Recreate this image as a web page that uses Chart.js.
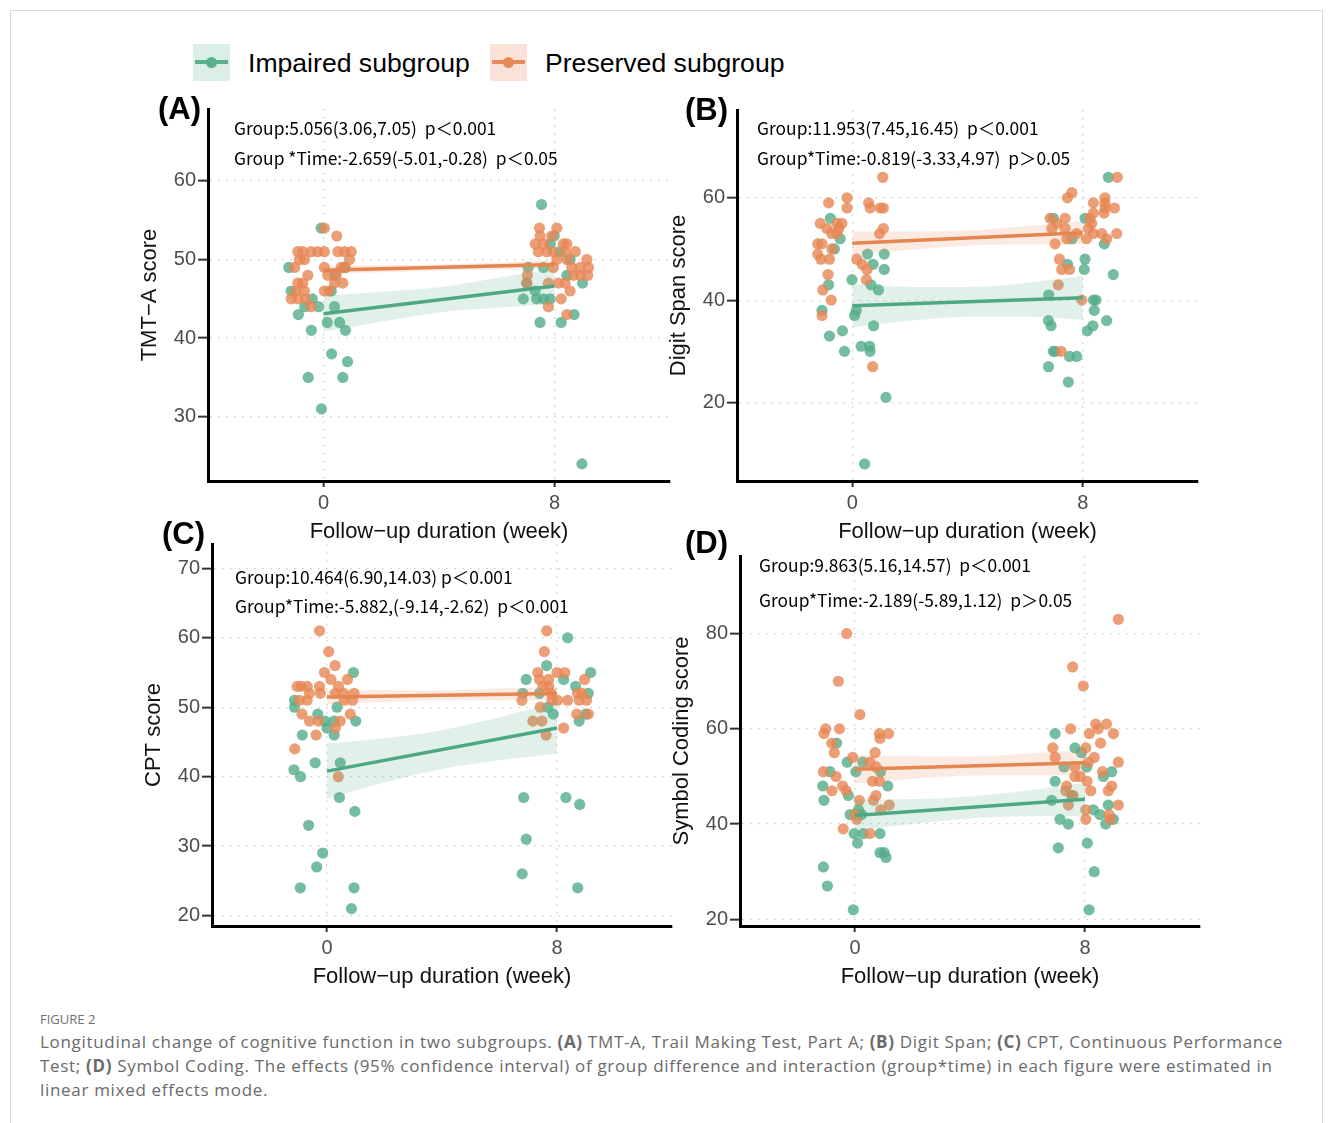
<!DOCTYPE html>
<html><head><meta charset="utf-8">
<script src="https://cdn.jsdelivr.net/npm/chart.js@4.4.0/dist/chart.umd.min.js"></script>
<style>
html,body{margin:0;padding:0;background:#fff;}
body{width:1333px;height:1123px;position:relative;overflow:hidden;font-family:"Liberation Sans",Arial,sans-serif;}
#frame{position:absolute;left:10px;top:10px;width:1313px;height:1130px;border:1px solid #d8d8d8;box-sizing:border-box;}
canvas{position:absolute;}
.key{position:absolute;width:37px;height:37px;}
.key .ln{position:absolute;left:2px;right:2px;top:16px;height:4px;}
.key .dt{position:absolute;left:13px;top:13px;width:11px;height:11px;border-radius:50%;}
.lgt{position:absolute;font-size:26.6px;line-height:30px;color:#000;white-space:nowrap;}
#fig{position:absolute;left:40px;top:1011px;font-size:13px;line-height:16px;color:#707070;font-family:"Open Sans",sans-serif;}
#cap{position:absolute;left:40px;top:1030px;font-size:17px;line-height:24px;color:#6a6a6a;font-family:"Open Sans",sans-serif;}
#cap span{display:block;white-space:nowrap;}
</style></head>
<body>
<div id="frame"></div>
<div class="key" style="left:193px;top:44px;background:#dcefe7"><div class="ln" style="background:#5aaf8c"></div><div class="dt" style="background:#5aaf8c"></div></div>
<div class="lgt" style="left:248px;top:48px">Impaired subgroup</div>
<div class="key" style="left:490px;top:44px;background:#f9e3d8"><div class="ln" style="background:#e68a59"></div><div class="dt" style="background:#e68a59"></div></div>
<div class="lgt" style="left:545px;top:48px">Preserved subgroup</div>

<canvas id="cA"></canvas><canvas id="cB"></canvas><canvas id="cC"></canvas><canvas id="cD"></canvas>

<div id="fig">FIGURE 2</div>
<div id="cap"><span id="cap1">Longitudinal change of cognitive function in two subgroups. <b>(A)</b> TMT-A, Trail Making Test, Part A; <b>(B)</b> Digit Span; <b>(C)</b> CPT, Continuous Performance</span><span>Test; <b>(D)</b> Symbol Coding. The effects (95% confidence interval) of group difference and interaction (group*time) in each figure were estimated in</span><span>linear mixed effects mode.</span></div>

<script>
// ---------- data ----------
const xTicks = [0, 8];
const fitWeeks = [0, 8];
const bandWeeks = [0, 2, 4, 6, 8];

// (A) TMT-A
const tmtTicks = [30, 40, 50, 60];
const tmtImpaired = [[-0.08,54],[-1.2,49],[-1.12,46],[-0.87,43],[-0.65,44],[-0.39,45],[-0.17,44],[-0.42,41],[0.13,42],[0.38,44],[0.56,42],[0.76,41],[0.28,38],[0.83,37],[-0.53,35],[0.67,35],[-0.07,31],[0.39,48],[0.75,49],[0.27,46],
  [7.55,57],[7.99,53],[7.85,52],[8.19,51],[8.54,50],[8.43,48],[7.09,49],[7.62,49],[7.04,47],[7.33,46],[6.92,45],[7.38,45],[7.62,45],[7.85,45],[8.97,47],[7.5,42],[8.23,42],[8.68,43],[8.95,24]];
const tmtPreserved = [[0.03,54],[0.46,53],[-0.89,51],[-0.72,51],[-0.43,51],[-0.2,51],[0.03,51],[0.5,51],[0.73,51],[0.96,51],[-0.83,50],[-0.66,50],[0.9,50],[-1.0,49],[0.03,49],[0.61,49],[0.73,49],[-0.54,48],[0.15,48],[0.44,48],[-0.89,47],[-0.72,47],[0.38,47],[0.67,47],[-0.95,46],[-0.66,46],[0.03,46],[0.19,46],[-1.12,45],[-0.89,45],[-0.62,45],[-0.43,44],
  [7.48,54],[8.08,54],[7.5,53],[7.9,53],[7.33,52],[7.62,52],[8.31,52],[8.43,52],[7.44,51],[7.73,51],[7.96,51],[8.37,51],[8.72,51],[8.08,50],[8.43,50],[9.12,50],[7.96,49],[8.6,49],[8.89,49],[9.18,49],[7.06,48],[8.66,48],[8.89,48],[9.15,48],[7.04,47],[7.79,47],[8.14,47],[8.37,47],[8.54,46],[8.23,45],[7.79,44],[8.43,43]];
const tmtImpairedFit = [43.1, 46.64];
const tmtPreservedFit = [48.64, 49.36];
const tmtImpairedUpper = [45.4, 45.89, 46.47, 47.66, 48.9];
const tmtImpairedLower = [40.8, 42.09, 43.27, 43.86, 44.3];
const tmtPreservedUpper = [49.19, 49.27, 49.38, 49.63, 49.91];
const tmtPreservedLower = [48.09, 48.37, 48.62, 48.73, 48.81];

// (B) Digit Span
const digitTicks = [20, 40, 60];
const digitImpaired = [[-0.76,56],[-0.42,52],[-0.62,50],[0.53,49],[1.11,49],[0.72,47],[1.11,46],[-0.01,44],[0.65,43],[-0.82,43],[0.91,42],[-1.05,38],[0.14,38],[0.08,37],[0.74,35],[-0.79,33],[-0.34,34],[-0.27,30],[0.31,31],[0.6,31],[0.62,30],[1.17,21],[0.43,8],
  [8.89,64],[8.08,56],[6.98,56],[7.63,52],[8.75,51],[8.08,48],[8.05,46],[7.47,47],[9.06,45],[6.82,41],[8.37,40],[8.46,40],[8.4,38],[6.81,36],[6.9,35],[8.83,36],[8.35,35],[8.16,34],[6.98,30],[7.04,30],[7.54,29],[7.79,29],[6.81,27],[7.5,24]];
const digitPreserved = [[1.06,64],[-0.18,60],[-0.82,59],[-0.18,58],[0.57,59],[0.62,58],[0.97,58],[1.08,58],[-1.11,55],[-0.88,54],[-0.53,55],[-0.36,55],[-0.47,54],[-0.71,53],[-0.53,53],[1.08,54],[0.95,53],[-1.2,51],[-1.05,51],[-0.71,50],[-1.2,49],[-1.09,48],[-0.79,48],[0.16,48],[0.34,47],[0.51,46],[-0.84,45],[0.49,44],[-1.02,42],[-0.73,40],[-1.05,37],[0.71,27],
  [9.2,64],[7.62,61],[7.47,60],[8.77,60],[8.37,59],[8.77,59],[8.77,58],[9.1,58],[8.37,57],[8.74,57],[6.87,56],[7.39,56],[8.25,56],[8.31,55],[7.1,55],[6.93,54],[7.39,54],[8.19,54],[7.79,53],[8.37,53],[8.66,53],[9.18,53],[7.45,52],[8.13,52],[8.83,52],[7.04,51],[7.19,48],[7.27,46],[7.54,46],[7.15,43],[7.97,40],[7.25,30]];
const digitImpairedFit = [38.9, 40.46];
const digitPreservedFit = [51.1, 53.16];
const digitImpairedUpper = [43.1, 42.59, 42.58, 43.37, 44.7];
const digitImpairedLower = [34.7, 35.99, 36.78, 36.77, 36.16];
const digitPreservedUpper = [53.4, 53.42, 53.63, 54.45, 55.46];
const digitPreservedLower = [48.8, 49.82, 50.63, 50.85, 50.86];

// (C) CPT
const cptTicks = [20, 30, 40, 50, 60, 70];
const cptImpaired = [[0.92,55],[-1.13,51],[-1.13,50],[0.35,50],[-0.32,49],[-0.07,48],[0.25,48],[0,47],[0.25,46],[1.0,48],[-0.86,46],[-0.41,42],[0.46,42],[-1.15,41],[-0.92,40],[0.43,37],[0.97,35],[-0.64,33],[-0.15,29],[-0.36,27],[-0.93,24],[0.94,24],[0.85,21],
  [8.37,60],[7.64,56],[6.93,54],[8.23,54],[8.65,53],[9.17,55],[6.81,52],[7.39,52],[9.09,52],[7.68,50],[7.87,49],[9.0,49],[8.77,48],[6.84,37],[8.31,37],[8.79,36],[6.93,31],[6.79,26],[8.72,24]];
const cptPreserved = [[-0.26,61],[0.06,58],[0.28,56],[-0.09,55],[0.14,54],[0.71,54],[-1.04,53],[-0.9,53],[-0.69,53],[-0.26,53],[0.4,53],[-0.61,52],[-0.23,52],[0.29,52],[0.58,52],[0.94,52],[-0.96,51],[-0.69,51],[0.6,51],[0.89,51],[-0.87,49],[0.81,49],[-0.61,48],[-0.3,48],[0.46,48],[0.29,47],[-0.38,46],[-1.12,44],[0.39,40],
  [7.64,61],[7.56,58],[7.33,55],[8.0,55],[8.27,55],[7.39,54],[7.71,54],[8.96,54],[7.51,53],[7.71,53],[8.71,52],[8.88,52],[7.79,52],[6.78,51],[7.83,51],[8.02,51],[8.37,51],[8.77,51],[9.03,51],[7.42,50],[8.69,49],[9.09,49],[7.16,48],[7.48,48],[8.23,47],[7.62,46]];
const cptImpairedFit = [40.8, 47.0];
const cptPreservedFit = [51.48, 51.96];
const cptImpairedUpper = [44.8, 45.55, 46.7, 48.55, 50.7];
const cptImpairedLower = [36.8, 39.15, 41.1, 42.35, 43.3];
const cptPreservedUpper = [52.53, 52.45, 52.42, 52.69, 52.96];
const cptPreservedLower = [50.43, 50.75, 51.02, 50.99, 50.96];

// (D) Symbol Coding
const symbolTicks = [20, 40, 60, 80];
const symbolImpaired = [[-0.64,57],[-0.27,53],[0.03,51],[0.27,53],[-0.87,51],[-1.12,48],[-0.23,46],[-1.08,45],[1.14,48],[0.89,51],[-0.17,42],[0.12,43],[0.23,42],[-0.03,38],[0.29,38],[0.87,38],[0.09,36],[0.87,34],[1.01,34],[1.08,33],[-1.1,31],[-0.96,27],[-0.06,22],
  [6.96,59],[7.65,56],[7.88,55],[8.06,52],[7.27,52],[8.93,51],[8.64,50],[6.96,49],[6.84,45],[7.54,46],[8.29,43],[8.52,42],[8.81,44],[8.72,40],[8.99,41],[7.13,41],[7.42,40],[7.07,35],[8.08,36],[8.32,30],[8.14,22]];
const symbolPreserved = [[-0.29,80],[-0.58,70],[0.17,63],[-1.02,60],[-0.54,60],[-1.08,59],[0.85,59],[1.17,59],[0.87,58],[-0.81,57],[-0.72,55],[0.7,55],[-0.08,54],[0.52,53],[-1.1,51],[-0.66,50],[0.73,52],[-0.43,48],[-0.31,47],[-0.8,47],[0.61,49],[0.85,49],[0.73,46],[0.64,45],[0.15,45],[1.19,44],[0.9,43],[0,42],[0.06,41],[-0.41,39],[0.52,38],
  [9.16,83],[7.57,73],[7.94,69],[7.5,60],[8.37,61],[8.75,61],[8.46,60],[8.15,59],[8.99,59],[8.54,57],[6.88,56],[8.03,56],[6.96,54],[8.32,54],[8.12,53],[9.16,53],[7.65,52],[7.65,50],[7.83,50],[8.61,51],[8.07,49],[8.93,48],[8.81,47],[7.36,48],[8.2,47],[7.33,47],[7.59,46],[7.42,44],[9.16,44],[8.03,43],[8.84,42],[8.03,41],[8.87,41]];
const symbolImpairedFit = [41.8, 45.2];
const symbolPreservedFit = [51.5, 52.9];
const symbolImpairedUpper = [45.1, 45.25, 45.8, 47.05, 48.7];
const symbolImpairedLower = [38.5, 40.05, 41.2, 41.65, 41.7];
const symbolPreservedUpper = [54.5, 54.25, 54.2, 54.85, 55.5];
const symbolPreservedLower = [48.5, 49.45, 50.2, 50.25, 50.3];

// ---------- styles ----------
const GREEN_PT = 'rgba(82,172,137,0.80)';
const ORANGE_PT = 'rgba(231,134,84,0.80)';
const GREEN_LN = '#4fa884';
const ORANGE_LN = '#e5854f';
const GREEN_BAND = 'rgba(90,175,140,0.18)';
const ORANGE_BAND = 'rgba(232,140,95,0.18)';
const FONT = '"Liberation Sans", Arial, sans-serif';
Chart.defaults.font.family = FONT;

const panels = [
  {id:'cA', area:[208,109,670,481], yMin:21.82, yMax:69.16, ticks:tmtTicks, title:'TMT\u2212A score',
   imp:tmtImpaired, pre:tmtPreserved, impFit:tmtImpairedFit, preFit:tmtPreservedFit,
   impU:tmtImpairedUpper, impL:tmtImpairedLower, preU:tmtPreservedUpper, preL:tmtPreservedLower,
   label:'(A)', labelPos:[-50,10], textDx:26, textDy:[26,56],
   lines:['Group:5.056(3.06,7.05)  p\uFF1C0.001','Group *Time:-2.659(-5.01,-0.28)  p\uFF1C0.05']},
  {id:'cB', area:[737,110,1198,481], yMin:4.67, yMax:77.15, ticks:digitTicks, title:'Digit Span score',
   imp:digitImpaired, pre:digitPreserved, impFit:digitImpairedFit, preFit:digitPreservedFit,
   impU:digitImpairedUpper, impL:digitImpairedLower, preU:digitPreservedUpper, preL:digitPreservedLower,
   label:'(B)', labelPos:[-52,10], textDx:20, textDy:[25,55],
   lines:['Group:11.953(7.45,16.45)  p\uFF1C0.001','Group*Time:-0.819(-3.33,4.97)  p\uFF1E0.05']},
  {id:'cC', area:[212,544,672,926], yMin:18.5, yMax:73.5, ticks:cptTicks, title:'CPT score',
   imp:cptImpaired, pre:cptPreserved, impFit:cptImpairedFit, preFit:cptPreservedFit,
   impU:cptImpairedUpper, impL:cptImpairedLower, preU:cptPreservedUpper, preL:cptPreservedLower,
   label:'(C)', labelPos:[-50,0], textDx:23, textDy:[40,69],
   lines:['Group:10.464(6.90,14.03) p\uFF1C0.001','Group*Time:-5.882,(-9.14,-2.62)  p\uFF1C0.001']},
  {id:'cD', area:[740,556,1200,926], yMin:18.6, yMax:96.3, ticks:symbolTicks, title:'Symbol Coding score',
   imp:symbolImpaired, pre:symbolPreserved, impFit:symbolImpairedFit, preFit:symbolPreservedFit,
   impU:symbolImpairedUpper, impL:symbolImpairedLower, preU:symbolPreservedUpper, preL:symbolPreservedLower,
   label:'(D)', labelPos:[-55,-3], textDx:19, textDy:[16,51],
   lines:['Group:9.863(5.16,14.57)  p\uFF1C0.001','Group*Time:-2.189(-5.89,1.12)  p\uFF1E0.05']}
];

const PAD_L = 29, PAD_T = 30, PAD_R = 10, PAD_B = 5, Y_W = 71, X_H = 64;

const textPlugin = {
  id: 'panelText',
  afterDraw(chart, args, o) {
    const ctx = chart.ctx, a = chart.chartArea;
    ctx.save();
    ctx.fillStyle = '#000';
    ctx.textAlign = 'left';
    ctx.textBaseline = 'alphabetic';
    ctx.font = 'bold 31px ' + FONT;
    ctx.fillText(o.label, a.left + o.labelPos[0], a.top + o.labelPos[1]);
    ctx.font = '17.4px "Noto Sans CJK SC", "Noto Sans", sans-serif';
    o.lines.forEach((t, i) => ctx.fillText(t, a.left + o.textDx, a.top + o.textDy[i]));
    ctx.restore();
  }
};

function pts(arr) { return arr.map(p => ({x: p[0], y: p[1]})); }
function series(xs, ys) { return xs.map((x, i) => ({x: x, y: ys[i]})); }

panels.forEach(p => {
  const [L, T, R, B] = p.area;
  const cv = document.getElementById(p.id);
  const W = (R - L) + PAD_L + Y_W + PAD_R;
  const H = (B - T) + PAD_T + X_H + PAD_B;
  cv.width = W; cv.height = H;
  cv.style.left = (L - PAD_L - Y_W) + 'px';
  cv.style.top = (T - PAD_T) + 'px';
  cv.style.width = W + 'px'; cv.style.height = H + 'px';

  const bandDs = (up, lo, color) => [
    {type:'line', data: series(bandWeeks, up), borderWidth:0, borderColor:'rgba(0,0,0,0)', pointRadius:0,
     fill:'+1', backgroundColor:color, cubicInterpolationMode:'monotone', order:2},
    {type:'line', data: series(bandWeeks, lo), borderWidth:0, borderColor:'rgba(0,0,0,0)', pointRadius:0,
     fill:false, cubicInterpolationMode:'monotone', order:2}
  ];

  const datasets = [
    {type:'scatter', data: pts(p.imp), backgroundColor: GREEN_PT, borderWidth:0, pointRadius:5.6, order:4},
    {type:'scatter', data: pts(p.pre), backgroundColor: ORANGE_PT, borderWidth:0, pointRadius:5.6, order:3},
    ...bandDs(p.impU, p.impL, GREEN_BAND),
    ...bandDs(p.preU, p.preL, ORANGE_BAND),
    {type:'line', data: series(fitWeeks, p.impFit), borderColor: GREEN_LN, borderWidth:3.5, pointRadius:0, fill:false, order:1},
    {type:'line', data: series(fitWeeks, p.preFit), borderColor: ORANGE_LN, borderWidth:3.5, pointRadius:0, fill:false, order:1}
  ];

  new Chart(cv, {
    type: 'scatter',
    data: { datasets },
    plugins: [textPlugin],
    options: {
      responsive: false,
      animation: false,
      devicePixelRatio: 1,
      events: [],
      layout: { padding: { left: PAD_L, top: PAD_T, right: PAD_R, bottom: PAD_B } },
      plugins: {
        legend: { display: false },
        tooltip: { enabled: false },
        panelText: { label: p.label, labelPos: p.labelPos, textDx: p.textDx, textDy: p.textDy, lines: p.lines }
      },
      scales: {
        x: {
          type: 'linear', min: -4, max: 12,
          afterBuildTicks: s => { s.ticks = xTicks.map(v => ({value: v})); },
          afterFit: s => { s.height = X_H; },
          ticks: { color:'#4d4d4d', font:{size:20}, padding:4, callback: v => String(v) },
          grid: { color:'#dadada', lineWidth:1.3, tickLength:6, tickColor:'#333', tickWidth:2, tickBorderDash:[] },
          border: { display:true, color:'#000', width:3, dash:[2,6] },
          title: { display:true, text:'Follow\u2212up duration (week)', color:'#111', font:{size:22}, padding:0 }
        },
        y: {
          type: 'linear', min: p.yMin, max: p.yMax,
          afterBuildTicks: s => { s.ticks = p.ticks.map(v => ({value: v})); },
          afterFit: s => { s.width = Y_W; },
          ticks: { color:'#4d4d4d', font:{size:20}, padding:2, callback: v => String(v) },
          grid: { color:'#dadada', lineWidth:1.3, tickLength:10, tickColor:'#333', tickWidth:2, tickBorderDash:[] },
          border: { display:true, color:'#000', width:3, dash:[2,6] },
          title: { display:true, text:p.title, color:'#111', font:{size:22}, padding:0 }
        }
      }
    }
  });
});

// fit caption line width to the reference
(function(){
  const cap = document.getElementById('cap');
  const l1 = document.getElementById('cap1');
  l1.style.display = 'inline-block';
  const w = l1.getBoundingClientRect().width;
  const n = l1.textContent.length;
  const ls = (1243 - w) / n;
  cap.style.letterSpacing = ls.toFixed(3) + 'px';
  l1.style.display = 'block';
})();
</script>
</body></html>
